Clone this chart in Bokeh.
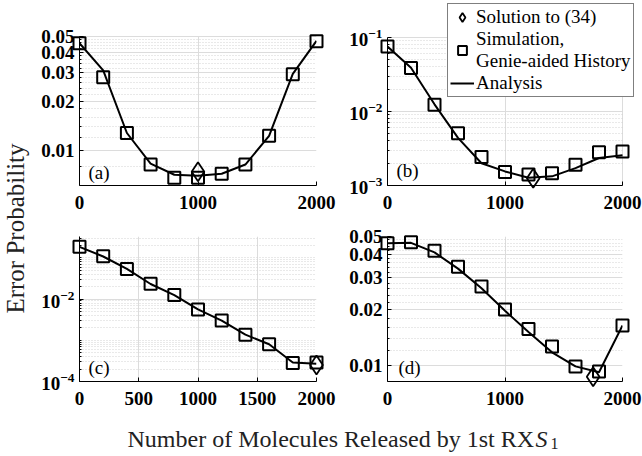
import math
from bokeh.plotting import figure
from bokeh.layouts import row, column
from bokeh.models import (Range1d, FixedTicker, CustomJSTickFormatter, Label,
                          Legend, LegendItem)
from bokeh.embed import file_html
from bokeh.resources import INLINE

# ---------------- data ----------------
x_vals = [0, 200, 400, 600, 800, 1000, 1200, 1400, 1600, 1800, 2000]

a_sim = [0.0455, 0.0281, 0.0128, 0.0082, 0.0068, 0.0068, 0.0072, 0.0082, 0.0123, 0.0293, 0.0468]
a_ana = [0.0455, 0.0310, 0.0128, 0.0083, 0.0071, 0.0070, 0.0072, 0.0082, 0.0123, 0.0295, 0.0470]
a_opt_x = [1000]
a_opt_y = [0.0074]

b_sim = [0.0755, 0.0388, 0.0123, 0.0051, 0.00243, 0.00152, 0.00141, 0.00146, 0.00191, 0.00281, 0.00287]
b_ana = [0.0755, 0.0390, 0.0125, 0.0044, 0.00200, 0.00155, 0.00127, 0.00133, 0.00172, 0.00235, 0.00256]
b_opt_x = [1240]
b_opt_y = [0.00125]

c_sim = [0.185, 0.110, 0.054, 0.0234, 0.0126, 0.00558, 0.00302, 0.00136, 0.00080, 0.00028, 0.00029]
c_ana = [0.185, 0.108, 0.054, 0.0232, 0.0125, 0.00560, 0.00300, 0.00137, 0.00080, 0.00029, 0.00027]
c_opt_x = [2000]
c_opt_y = [0.00025]

d_sim = [0.0460, 0.0465, 0.0419, 0.0343, 0.0268, 0.0201, 0.0158, 0.0127, 0.0099, 0.0093, 0.0165]
d_ana = [0.0460, 0.0462, 0.0410, 0.0335, 0.0262, 0.0198, 0.0152, 0.0118, 0.0099, 0.0092, 0.0165]
d_opt_x = [1750]
d_opt_y = [0.0087]

panel_tags = ["(a)", "(b)", "(c)", "(d)"]
y_label = "Error Probability"
x_label_main = "Number of Molecules Released by 1st RX"
legend_labels = ["Solution to (34)", "Simulation,\nGenie-aided History", "Analysis"]

SERIF = "Liberation Serif"

lin_major = [0.01, 0.02, 0.03, 0.04, 0.05]
lin_minor = [k / 1000 for k in range(6, 52, 2) if k not in (10, 20, 30, 40, 50)]


def decade_minor(e_lo, e_hi):
    out = []
    for e in range(e_lo, e_hi + 1):
        for m in range(1, 10):
            out.append(m * 10.0 ** e)
    return out


def make_panel(width, height, bl, br, bt, bb, xlim, ylim, yticks, yminor, xticks,
               fixed_fmt, xgrid_ticks=None):
    p = figure(width=width, height=height, x_range=Range1d(*xlim),
               y_range=Range1d(*ylim), y_axis_type="log", title=None,
               output_backend="svg", toolbar_location=None,
               min_border_left=bl, min_border_right=br,
               min_border_top=bt, min_border_bottom=bb)
    p.outline_line_color = None
    p.background_fill_color = "white"
    xt = FixedTicker(ticks=xticks, minor_ticks=[])
    yt = FixedTicker(ticks=yticks, minor_ticks=yminor)
    p.xaxis.ticker = xt
    p.xgrid.ticker = xt if xgrid_ticks is None else FixedTicker(ticks=xgrid_ticks, minor_ticks=[])
    p.yaxis.ticker = yt
    p.ygrid.ticker = yt
    if fixed_fmt:
        p.yaxis.formatter = CustomJSTickFormatter(code="return tick.toFixed(2);")
    for ax in p.axis:
        ax.axis_line_color = "black"
        ax.axis_line_width = 1
        ax.major_tick_in = 4
        ax.major_tick_out = 0
        ax.minor_tick_in = 2
        ax.minor_tick_out = 0
        ax.major_tick_line_color = "black"
        ax.minor_tick_line_color = "black"
        ax.major_label_text_font = SERIF
        ax.major_label_text_font_style = "bold"
        ax.major_label_text_font_size = "19px"
        ax.major_label_text_color = "black"
    p.xaxis.major_label_standoff = 10
    p.yaxis.major_label_standoff = 5
    p.xgrid.grid_line_color = "#dcdcdc"
    p.ygrid.grid_line_color = "#dcdcdc"
    p.ygrid.minor_grid_line_color = "#d2d2d2"
    p.ygrid.minor_grid_line_dash = "1 2"
    return p


def limit_to_data(p, xb, yb):
    p.xaxis.bounds = xb
    p.yaxis.bounds = yb
    for g, cb in ((p.xgrid[0], yb), (p.ygrid[0], xb)):
        try:
            g.cross_bounds = cb
        except Exception:
            pass


def add_series(p, sim, ana, ox, oy):
    ln = p.line(x_vals, ana, line_color="black", line_width=2)
    sq = p.scatter(x_vals, sim, marker="square", size=12, fill_color=None,
                   line_color="black", line_width=2)
    dm = p.scatter(ox, oy, marker="diamond", size=19, fill_color=None,
                   line_color="black", line_width=1.8)
    sq.level = "overlay"
    dm.level = "overlay"
    return ln, sq, dm


def add_tag(p, x, y, text):
    p.add_layout(Label(x=x, y=y, text=text, text_font=SERIF, text_font_size="19px",
                       text_baseline="middle", text_align="left", text_color="black"))


# top row: frames start at y=2 px (so the legend of (b) fits inside its frame);
# the data areas start lower (a: 0.05 at 36 px, b: 0.1 at 37 px), bottom at 185 px.

# panel (a)
a_ppd = 149 / math.log10(0.05 / 0.0061)
a_y_hi = 0.05 * 10 ** (34 / a_ppd)
pa = make_panel(310, 218, 49, 24, 2, 33, (0, 2000), (0.0061, a_y_hi), lin_major, lin_minor,
                [0, 1000, 2000], True, xgrid_ticks=[1000, 2000])
limit_to_data(pa, (0, 2000), (0.0061, 0.05))
add_series(pa, a_sim, a_ana, a_opt_x, a_opt_y)
add_tag(pa, 76, 0.0073, panel_tags[0])

# panel (b)
b_ppd = 148 / 2
b_x_hi = 2000 + 20 * 2000 / 235
b_y_hi = 0.1 * 10 ** (35 / b_ppd)
pb = make_panel(302, 218, 47, 0, 2, 33, (0, b_x_hi), (0.001, b_y_hi),
                [0.001, 0.01, 0.1], decade_minor(-3, -2), [0, 1000, 2000], False,
                xgrid_ticks=[1000, 2000])
limit_to_data(pb, (0, 2000), (0.001, 0.1))
lnb, sqb, dmb = add_series(pb, b_sim, b_ana, b_opt_x, b_opt_y)
add_tag(pb, 77, 0.00158, panel_tags[1])

legend = Legend(items=[LegendItem(label=legend_labels[0], renderers=[dmb]),
                       LegendItem(label=legend_labels[1], renderers=[sqb]),
                       LegendItem(label=legend_labels[2], renderers=[lnb])],
                location=(60, 88))
legend.label_text_font = SERIF
legend.label_text_font_size = "19px"
legend.label_text_color = "black"
legend.label_text_line_height = 1.15
legend.border_line_color = "black"
legend.border_line_width = 1
legend.background_fill_color = "white"
legend.background_fill_alpha = 1.0
legend.padding = 2
legend.spacing = 0
legend.margin = 0
legend.glyph_width = 24
legend.glyph_height = 22
legend.label_standoff = 2
pb.add_layout(legend)

# panel (c)
pc = make_panel(310, 202, 49, 24, 17, 36, (0, 2000), (0.0001, 0.33), [0.0001, 0.01],
                decade_minor(-4, -1), [0, 500, 1000, 1500, 2000], False)
add_series(pc, c_sim, c_ana, c_opt_x, c_opt_y)
add_tag(pc, 76, 0.000224, panel_tags[2])

# panel (d)
pd_ = make_panel(302, 202, 47, 20, 18, 39, (0, 2000), (0.0082, 0.05), lin_major, lin_minor,
                 [0, 1000, 2000], True)
add_series(pd_, d_sim, d_ana, d_opt_x, d_opt_y)
add_tag(pd_, 94, 0.0098, panel_tags[3])

# left label figure
lf = figure(width=30, height=420, x_range=Range1d(0, 30), y_range=Range1d(0, 420),
            output_backend="svg", toolbar_location=None, min_border=0, title=None,
            x_axis_location=None, y_axis_location=None)
lf.grid.visible = False
lf.outline_line_color = None
lf.add_layout(Label(x=15, y=192, text=y_label, angle=math.pi / 2,
                    text_align="center", text_baseline="middle",
                    text_font=SERIF, text_font_size="25px", text_color="#222222",
                    level="overlay"))

# bottom label figure
bf = figure(width=642, height=36, x_range=Range1d(0, 642), y_range=Range1d(0, 36),
            output_backend="svg", toolbar_location=None, min_border=0, title=None,
            x_axis_location=None, y_axis_location=None)
bf.grid.visible = False
bf.outline_line_color = None
bf.add_layout(Label(x=127, y=18, text=x_label_main, text_align="left",
                    text_baseline="middle", text_font=SERIF,
                    text_font_size="24px", text_color="#222222", level="overlay"))
bf.add_layout(Label(x=535, y=18, text="S", text_align="left",
                    text_baseline="middle", text_font=SERIF,
                    text_font_style="italic", text_font_size="24px",
                    text_color="#222222", level="overlay"))
bf.add_layout(Label(x=550, y=13, text="1", text_align="left",
                    text_baseline="middle", text_font=SERIF,
                    text_font_size="16px", text_color="#222222", level="overlay"))

grid = column(row(pa, pb), row(pc, pd_))
layout = column(row(lf, grid), bf)

open("out.html", "w").write(file_html(layout, INLINE))
